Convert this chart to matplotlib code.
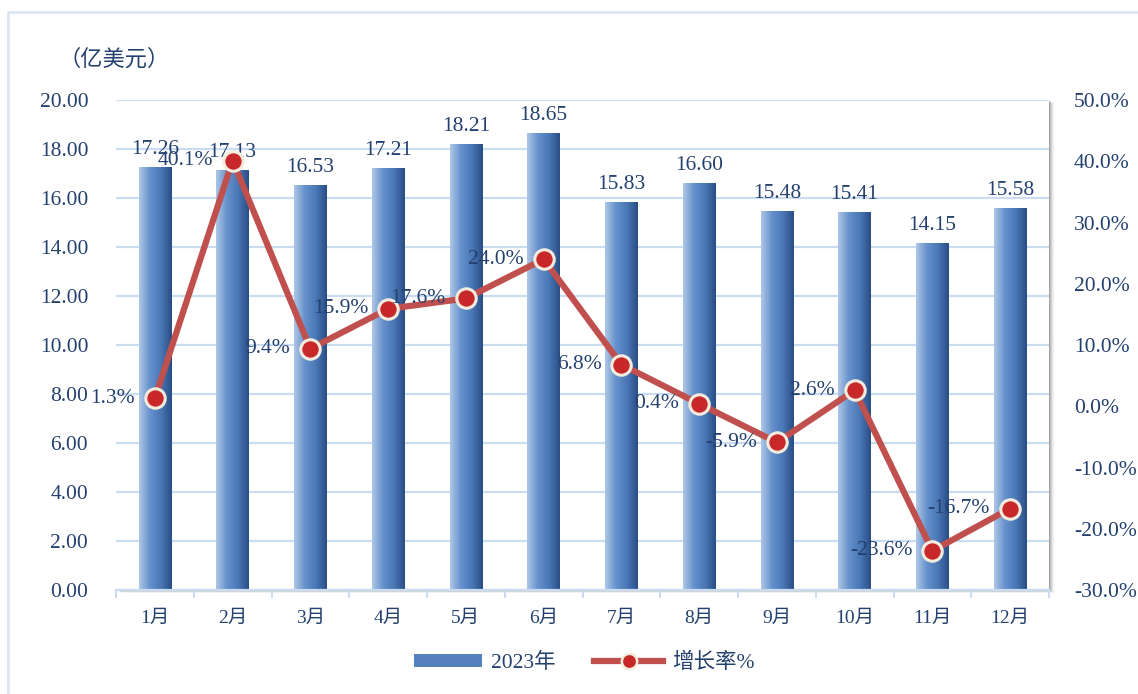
import numpy as np
import matplotlib.pyplot as plt
from matplotlib.colors import LinearSegmentedColormap
from matplotlib.patches import Rectangle
from matplotlib.lines import Line2D

# 数据
months = ['1月', '2月', '3月', '4月', '5月', '6月', '7月', '8月', '9月', '10月', '11月', '12月']
value_2023 = [17.26, 17.13, 16.53, 17.21, 18.21, 18.65, 15.83, 16.60, 15.48, 15.41, 14.15, 15.58]
growth = [1.3, 40.1, 9.4, 15.9, 17.6, 24.0, 6.8, 0.4, -5.9, 2.6, -23.6, -16.7]

FONT = ['Liberation Serif', 'Noto Sans CJK SC', 'DejaVu Sans']
plt.rcParams['font.family'] = FONT
TXT = '#24406E'
GRID = '#C9DCF2'

W, H = 1138, 694
fig = plt.figure(figsize=(W / 100, H / 100), dpi=100)

# 外框
fig.add_artist(Rectangle((8 / W, -0.05), 1.2, 1.05 - 12 / H, transform=fig.transFigure,
                         fill=False, edgecolor='#DCE6F2', lw=2, zorder=-5))

left, right, bottom, top = 116, 1049, 590, 100
ax = fig.add_axes([left / W, 1 - bottom / H, (right - left) / W, (bottom - top) / H])

# 绘图区阴影
for i, a in enumerate([0.14, 0.10, 0.07, 0.05, 0.03, 0.02]):
    d = i + 1
    fig.add_artist(Rectangle(((left + d) / W, 1 - (bottom + d * 0.5) / H), (right - left) / W, (bottom - top) / H,
                             transform=fig.transFigure, facecolor='black', edgecolor='none',
                             alpha=a, zorder=-2))

x = np.arange(len(months))
bars = ax.bar(x, value_2023, width=0.42, color='none', zorder=2)

cmap = LinearSegmentedColormap.from_list('bar', ['#ADC6E6', '#6591CC', '#4A78B6', '#2A4E86'])
grad = np.linspace(0, 1, 64).reshape(1, -1)
for b in bars:
    x0, w, h = b.get_x(), b.get_width(), b.get_height()
    im = ax.imshow(grad, cmap=cmap, aspect='auto', extent=[x0, x0 + w, 0, h], zorder=2)
    im.set_clip_path(b)
    ax.annotate(f'{h:.2f}', (x0 + w / 2, h), xytext=(0, 8), textcoords='offset pixels',
                ha='center', va='bottom', fontsize=15.5, color=TXT, zorder=5)

ax.set_xlim(-0.5, len(months) - 0.5)
ax.set_ylim(0, 20)
ax.set_yticks(np.arange(0, 20.01, 2))
ax.set_yticklabels([f'{v:.2f}' for v in np.arange(0, 20.01, 2)])
ax.set_xticks(x)
ax.set_xticklabels(months)
ax.set_xticks(np.arange(-0.5, len(months)), minor=True)
ax.tick_params(axis='x', which='major', length=0, pad=14, labelsize=14, labelcolor=TXT)
ax.tick_params(axis='x', which='minor', length=6, color=GRID, width=1.5)
ax.tick_params(axis='y', length=0, pad=20, labelsize=15.5, labelcolor=TXT)
ax.grid(axis='y', color=GRID, lw=1.6, zorder=0)
ax.set_axisbelow(True)
for s in ['top', 'left', 'right']:
    ax.spines[s].set_visible(False)
ax.spines['bottom'].set_color(GRID)
ax.spines['bottom'].set_linewidth(1.6)

ax2 = ax.twinx()
ax2.set_ylim(-30, 50)
ax2.set_yticks(np.arange(-30, 50.1, 10))
ax2.set_yticklabels([f'{v:.1f}%' for v in np.arange(-30, 50.1, 10)])
ax2.tick_params(axis='y', length=0, pad=18, labelsize=15.5, labelcolor=TXT)
for s in ax2.spines.values():
    s.set_visible(False)

ax2.plot(x, growth, color='#C0504D', lw=4.5, marker='o', markersize=14,
         markerfacecolor='#C8282A', markeredgecolor='#F3EBDD', markeredgewidth=2.2, zorder=4)
for xi, g in zip(x, growth):
    ax2.annotate(f'{g:.1f}%', (xi, g), xytext=(-20, 0), textcoords='offset pixels',
                 ha='right', va='center', fontsize=15.5, color=TXT, zorder=5)

fig.text(58 / W, 1 - 60 / H, '（亿美元）', fontsize=16, color=TXT, va='center', ha='left')

handles = [Rectangle((0, 0), 1, 1, facecolor='#5580BE', edgecolor='none'),
           Line2D([], [], color='#C0504D', lw=4.5, marker='o', markersize=11,
                  markerfacecolor='#C8282A', markeredgecolor='#F3EBDD', markeredgewidth=1.8)]
fig.legend(handles, ['2023年', '增长率%'], loc='center', bbox_to_anchor=(584 / W, 1 - 663 / H),
           ncol=2, frameon=False, fontsize=15.5, labelcolor=TXT, handlelength=3.2,
           handleheight=0.6, columnspacing=1.8, handletextpad=0.4)

fig.savefig('out.png', dpi=100)
